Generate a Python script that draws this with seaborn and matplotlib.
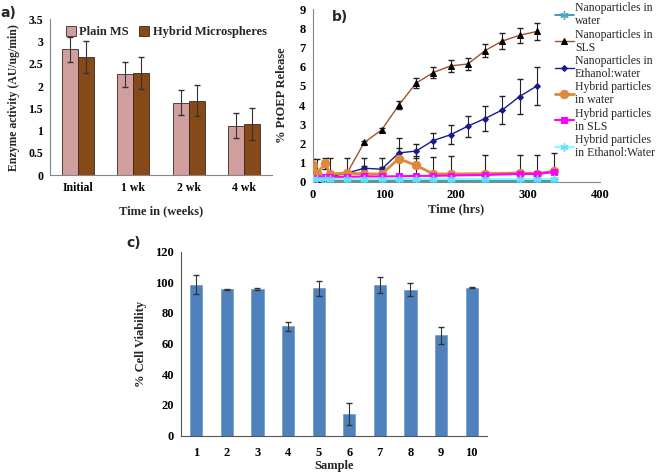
import matplotlib
matplotlib.use("Agg")
import matplotlib.pyplot as plt
import numpy as np
import pandas as pd
import seaborn as sns

# ---- panel a: enzyme activity ----
weeks = ["Initial", "1 wk", "2 wk", "4 wk"]
plain_ms = [2.83, 2.27, 1.63, 1.11]
plain_ms_err = [0.28, 0.28, 0.28, 0.28]
hybrid_ms = [2.65, 2.30, 1.67, 1.14]
hybrid_ms_err = [0.36, 0.36, 0.35, 0.36]

# ---- panel b: PtOEP release ----
t_nano = [0, 6, 18, 24, 48, 72, 96, 120, 144, 168, 192, 216, 240, 264, 288, 312]
t_hyb = [0, 6, 18, 24, 48, 72, 96, 120, 144, 168, 192, 240, 288, 312, 336]
nano_water = [0.03, 0.03, 0.03, 0.03, 0.03, 0.03, 0.03, 0.03, 0.03, 0.03, 0.03, 0.03, 0.03, 0.03, 0.03]
nano_sls = [0.1, 0.15, 0.2, 0.25, 0.45, 2.05, 2.7, 4.0, 5.15, 5.7, 6.05, 6.15, 6.85, 7.35, 7.65, 7.85]
nano_sls_err = [0.05, 0.05, 0.05, 0.05, 0.05, 0.08, 0.1, 0.2, 0.25, 0.28, 0.3, 0.3, 0.35, 0.4, 0.4, 0.45]
nano_eth = [0.15, 0.2, 0.25, 0.3, 0.45, 0.7, 0.65, 1.5, 1.6, 2.15, 2.45, 2.9, 3.3, 3.75, 4.45, 5.0]
nano_eth_err = [0.05, 0.05, 0.05, 0.05, 0.05, 0.1, 0.1, 0.25, 0.35, 0.4, 0.5, 0.55, 0.65, 0.75, 0.9, 1.0]
hyb_water = [0.85, 0.45, 0.95, 0.4, 0.45, 0.4, 0.4, 1.2, 0.85, 0.4, 0.4, 0.42, 0.45, 0.42, 0.55]
hyb_water_err = [0.35, 0.75, 0.3, 0.85, 0.8, 0.85, 0.85, 1.1, 0.5, 0.9, 0.95, 0.98, 0.95, 0.98, 0.95]
hyb_sls = [0.15, 0.2, 0.25, 0.25, 0.25, 0.27, 0.27, 0.28, 0.3, 0.3, 0.32, 0.35, 0.4, 0.4, 0.5]
hyb_eth = [0.12, 0.12, 0.12, 0.12, 0.12, 0.12, 0.12, 0.12, 0.12, 0.12, 0.12, 0.12, 0.12, 0.12, 0.12]

# ---- panel c: cell viability ----
samples = ["1", "2", "3", "4", "5", "6", "7", "8", "9", "10"]
viability = [98.5, 95.6, 95.6, 71.3, 96.0, 14.0, 98.2, 95.3, 65.4, 96.5]
viability_err = [6.0, 0.3, 0.5, 3.0, 5.0, 7.0, 5.5, 4.0, 5.6, 0.5]

sns.set_style("white")
plt.rcParams['font.family'] = ['Liberation Serif', 'DejaVu Serif']
plt.rcParams['axes.edgecolor'] = '#868686'
plt.rcParams['xtick.color'] = '#868686'
plt.rcParams['ytick.color'] = '#868686'
plt.rcParams['xtick.labelcolor'] = 'black'
plt.rcParams['ytick.labelcolor'] = 'black'

fig = plt.figure(figsize=(6.58, 4.73), dpi=100)


def style_axes(ax, fs):
    sns.despine(ax=ax)
    ax.tick_params(axis='both', direction='out', length=3, width=0.8, labelsize=fs, pad=2)
    for lab in ax.get_xticklabels() + ax.get_yticklabels():
        lab.set_fontweight('bold')


# panel a
ax1 = fig.add_axes([0.076, 0.630, 0.337, 0.329])
df_a = pd.DataFrame({
    "week": weeks * 2,
    "activity": plain_ms + hybrid_ms,
    "group": ["Plain MS"] * 4 + ["Hybrid Microspheres"] * 4,
})
sns.barplot(data=df_a, x="week", y="activity", hue="group", ax=ax1, width=0.58,
            palette=["#D99694", "#984807"], errorbar=None, edgecolor="#3a2a20", linewidth=0.6)
xpos = np.arange(len(weeks))
ax1.errorbar(xpos - 0.145, plain_ms, yerr=plain_ms_err, fmt='none', ecolor='#333333', elinewidth=0.8, capsize=2.5)
ax1.errorbar(xpos + 0.145, hybrid_ms, yerr=hybrid_ms_err, fmt='none', ecolor='#333333', elinewidth=0.8, capsize=2.5)
ax1.set_xlim(-0.5, 3.5)
ax1.set_ylim(0, 3.5)
ax1.set_yticks(np.arange(0, 3.6, 0.5))
ax1.set_yticklabels(["0", "0.5", "1", "1.5", "2", "2.5", "3", "3.5"])
ax1.set_xticks(np.arange(-0.5, 4, 1), minor=True)
ax1.tick_params(axis='x', which='major', length=0)
ax1.tick_params(axis='x', which='minor', length=4, direction='out', color='#868686')
ax1.set_xlabel("Time in (weeks)", fontsize=9, fontweight='bold', labelpad=8)
ax1.set_ylabel("Enzyme activity (AU/ug/min)", fontsize=8.5, fontweight='bold', labelpad=6)
style_axes(ax1, 8.5)
ax1.legend(loc='upper left', bbox_to_anchor=(0.02, 1.03), ncol=2, frameon=False,
           prop={'weight': 'bold', 'size': 9}, handlelength=0.8, handleheight=0.8,
           handletextpad=0.3, columnspacing=0.8)
fig.text(0.0, 0.965, "a)", fontsize=10, fontweight='bold', family='DejaVu Sans')

# panel b
ax2 = fig.add_axes([0.475, 0.616, 0.437, 0.364])
err_kw = dict(fmt='none', ecolor='#222222', elinewidth=0.8, capsize=2.5, zorder=1)
ax2.errorbar(t_hyb, hyb_water, yerr=hyb_water_err, **err_kw)
ax2.errorbar(t_nano, nano_sls, yerr=nano_sls_err, **err_kw)
ax2.errorbar(t_nano, nano_eth, yerr=nano_eth_err, **err_kw)
sns.lineplot(x=t_hyb, y=nano_water, ax=ax2, color="#31859C", marker=(6, 2, 0), markersize=6,
             markeredgecolor="#4BACC6", markeredgewidth=1.0, linewidth=1.2, label="Nanoparticles in\nwater", zorder=3)
sns.lineplot(x=t_nano, y=nano_sls, ax=ax2, color="#A0522D", marker='^', markersize=4.5,
             markerfacecolor='black', markeredgecolor='black', linewidth=1.0, label="Nanoparticles in\nSLS", zorder=3)
sns.lineplot(x=t_nano, y=nano_eth, ax=ax2, color="#1a1a8c", marker='D', markersize=3,
             markerfacecolor='#1a1a8c', markeredgecolor='#1a1a8c', linewidth=1.0, label="Nanoparticles in\nEthanol:water", zorder=3)
sns.lineplot(x=t_hyb, y=hyb_water, ax=ax2, color="#E0883A", marker='o', markersize=6,
             markerfacecolor='#E0883A', markeredgecolor='#E0883A', linewidth=2.0, label="Hybrid particles\nin water", zorder=3)
sns.lineplot(x=t_hyb, y=hyb_sls, ax=ax2, color="#FF00FF", marker='s', markersize=4.5,
             markerfacecolor='#FF00FF', markeredgecolor='#FF00FF', linewidth=1.5, label="Hybrid particles\nin SLS", zorder=3)
sns.lineplot(x=t_hyb, y=hyb_eth, ax=ax2, color="#66FFFF", marker=(6, 2, 0), markersize=6,
             markeredgecolor="#66E0FF", markeredgewidth=1.0, linewidth=1.2, label="Hybrid particles\nin Ethanol:Water", zorder=3)
ax2.set_xlim(0, 400)
ax2.set_ylim(0, 9)
ax2.set_xticks([0, 100, 200, 300, 400])
ax2.set_yticks(range(0, 10))
ax2.set_xlabel("Time (hrs)", fontsize=9, fontweight='bold', labelpad=2)
ax2.set_ylabel("% PtOEP Release", fontsize=9, fontweight='bold', labelpad=8)
style_axes(ax2, 9)
leg = ax2.legend(loc='upper left', bbox_to_anchor=(0.843, 0.995), bbox_transform=fig.transFigure,
                 frameon=False, fontsize=8.5, handlelength=1.6, handletextpad=0.1,
                 labelspacing=0.12, borderpad=0.0, borderaxespad=0.0)
for t in leg.get_texts():
    t.set_linespacing(1.1)
fig.text(0.505, 0.955, "b)", fontsize=10, fontweight='bold', family='DejaVu Sans')

# panel c
ax3 = fig.add_axes([0.275, 0.079, 0.465, 0.389])
df_c = pd.DataFrame({"sample": samples, "viability": viability})
sns.barplot(data=df_c, x="sample", y="viability", ax=ax3, color="#4F81BD", width=0.4,
            errorbar=None, saturation=1, edgecolor="#6f97c8", linewidth=0.5)
ax3.errorbar(np.arange(len(samples)), viability, yerr=viability_err, fmt='none',
             ecolor='#333333', elinewidth=0.8, capsize=2.5)
ax3.set_xlim(-0.5, 9.5)
ax3.set_ylim(0, 120)
ax3.set_yticks(range(0, 121, 20))
ax3.set_xticks(np.arange(-0.5, 10, 1), minor=True)
ax3.tick_params(axis='x', which='major', length=0)
ax3.tick_params(axis='x', which='minor', length=4, direction='out', color='#555555')
ax3.set_ylabel("% Cell Viability", fontsize=9, fontweight='bold', labelpad=6)
style_axes(ax3, 9)
ax3.tick_params(axis='x', which='major', pad=5)
ax3.set_xlabel("Sample", fontsize=9, fontweight='bold', labelpad=1)
ax3.spines['left'].set_color('#555555')
ax3.spines['bottom'].set_color('#555555')
fig.text(0.192, 0.478, "c)", fontsize=10, fontweight='bold', family='DejaVu Sans')

fig.savefig("out.png", dpi=100)
